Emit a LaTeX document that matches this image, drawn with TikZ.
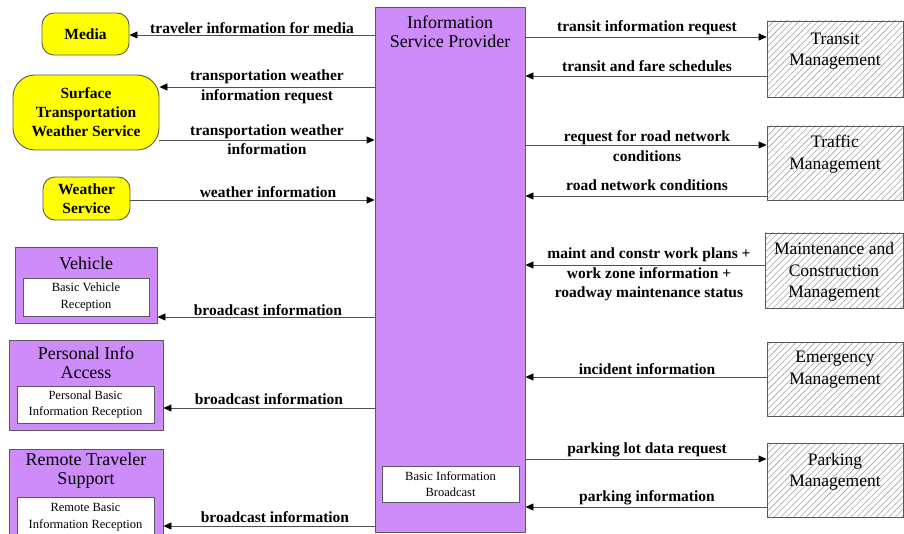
\documentclass[tikz,border=0pt]{standalone}
\usepackage{fontspec}
\setmainfont{Liberation Serif}
\usetikzlibrary{arrows.meta,patterns.meta}
\definecolor{ispviolet}{RGB}{206,140,250}
\definecolor{termyellow}{RGB}{255,255,0}
\definecolor{edgegray}{RGB}{90,90,90}
\definecolor{flowgray}{RGB}{80,80,80}
\definecolor{hatchgray}{RGB}{165,165,165}
\begin{document}
\begin{tikzpicture}[x=1pt,y=-1pt,
  term/.style={draw=edgegray, fill=termyellow, rounded corners=12pt, line width=0.9pt,
    font=\bfseries\fontsize{15.5}{19}\selectfont, align=center, inner sep=0pt},
  sub/.style={draw=edgegray, fill=ispviolet, line width=0.9pt, inner sep=0pt},
  fn/.style={draw=edgegray, fill=white, line width=0.9pt,
    font=\fontsize{12.5}{16.5}\selectfont, align=center, inner sep=0pt},
  ttl/.style={font=\fontsize{18}{19}\selectfont, align=center, inner sep=0pt},
  ext/.style={draw=edgegray, line width=0.9pt, preaction={fill=white},
    pattern={Lines[angle=45,distance=4.5pt,line width=0.6pt]}, pattern color=hatchgray,
    inner sep=0pt},
  extT/.style={font=\fontsize{17.5}{21.5}\selectfont, align=center, inner sep=0pt},
  flow/.style={draw=flowgray, line width=0.9pt,
    -{Triangle[length=8pt,width=7pt,color=black]}},
  lbl/.style={font=\bfseries\fontsize{15.5}{19.5}\selectfont, align=center, inner sep=0pt}
]
\useasboundingbox (0,0) rectangle (904,534);
\clip (0,0) rectangle (904,534);
\fill[white] (0,0) rectangle (904,534);

% central subsystem
\node[sub, minimum width=150, minimum height=525] (isp) at (450,269.5) {};
\node[ttl] (ispT) at (450,31.5) {Information\\Service Provider};
\node[fn, minimum width=137, minimum height=36] (bib) at (450.5,484) {Basic Information\\Broadcast};

% terminators on the left
\node[term, minimum width=87, minimum height=42] (media) at (85.5,34) {Media};
\node[term, rounded corners=22pt, minimum width=146, minimum height=75] (stws) at (86,112.5)
  {Surface\\Transportation\\Weather Service};
\node[term, minimum width=87, minimum height=43] (wx) at (86.5,198.5) {Weather\\Service};

% subsystems on the left
\node[sub, minimum width=142, minimum height=76] (veh) at (86,285) {};
\node[ttl] (vehT) at (86,263) {Vehicle};
\node[fn, minimum width=126, minimum height=38] (vehF) at (86,297) {Basic Vehicle\\Reception};

\node[sub, minimum width=154, minimum height=90] (pia) at (86,385) {};
\node[ttl] (piaT) at (86,363) {Personal Info\\Access};
\node[fn, minimum width=137, minimum height=37] (piaF) at (85.5,404.5)
  {Personal Basic\\Information Reception};

\node[sub, minimum width=154, minimum height=100] (rts) at (86,499) {};
\node[ttl] (rtsT) at (86,471) {Remote Traveler\\Support};
\node[fn, minimum width=137, minimum height=40] (rtsF) at (85.5,517)
  {Remote Basic\\Information Reception};

% external centers on the right
\node[ext, minimum width=136, minimum height=76] (transit) at (835,59) {};
\node[extT] (transitT) at (835,51) {Transit\\Management};
\node[ext, minimum width=136, minimum height=74] (traffic) at (835,163) {};
\node[extT] (trafficT) at (835,154) {Traffic\\Management};
\node[ext, minimum width=138, minimum height=75] (mcm) at (834,270.5) {};
\node[extT] (mcmT) at (834,272) {Maintenance and\\Construction\\Management};
\node[ext, minimum width=136, minimum height=74] (emm) at (835,379) {};
\node[extT] (emmT) at (835,369.5) {Emergency\\Management};
\node[ext, minimum width=136, minimum height=74] (pkm) at (835,480) {};
\node[extT] (pkmT) at (835,472) {Parking\\Management};

% flows on the left
\draw[flow] (isp.west |- 0,35) -- (media.east |- 0,35);
\node[lbl] (f1) at (252,28) {traveler information for media};
\draw[flow] (isp.west |- 0,87) -- (stws.east |- 0,87);
\node[lbl] (f2) at (267,87) {transportation weather\\information request};
\draw[flow] (stws.east |- 0,140) -- (isp.west |- 0,140);
\node[lbl] (f3) at (267,139.5) {transportation weather\\information};
\draw[flow] (wx.east |- 0,200) -- (isp.west |- 0,200);
\node[lbl] (f4) at (268,192) {weather information};
\draw[flow] (isp.west |- 0,317) -- (veh.east |- 0,317);
\node[lbl] (f5) at (268,310) {broadcast information};
\draw[flow] (isp.west |- 0,408) -- (pia.east |- 0,408);
\node[lbl] (f6) at (269,399) {broadcast information};
\draw[flow] (isp.west |- 0,526) -- (rts.east |- 0,526);
\node[lbl] (f7) at (275,517) {broadcast information};

% flows on the right
\draw[flow] (isp.east |- 0,37) -- (transit.west |- 0,37);
\node[lbl] (f8) at (647,28) {transit information request};
\draw[flow] (transit.west |- 0,76) -- (isp.east |- 0,76);
\node[lbl] (f9) at (647,66) {transit and fare schedules};
\draw[flow] (isp.east |- 0,145) -- (traffic.west |- 0,145);
\node[lbl] (f10) at (647,146) {request for road network\\conditions};
\draw[flow] (traffic.west |- 0,196) -- (isp.east |- 0,196);
\node[lbl] (f11) at (647,185) {road network conditions};
\draw[flow] (mcm.west |- 0,265) -- (isp.east |- 0,265);
\node[lbl] (f12) at (649,274.5) {maint and constr work plans +\\work zone information +\\roadway maintenance status};
\draw[flow] (emm.west |- 0,377) -- (isp.east |- 0,377);
\node[lbl] (f13) at (647,369) {incident information};
\draw[flow] (isp.east |- 0,459) -- (pkm.west |- 0,459);
\node[lbl] (f14) at (647,450) {parking lot data request};
\draw[flow] (pkm.west |- 0,507) -- (isp.east |- 0,507);
\node[lbl] (f15) at (647,498) {parking information};
\end{tikzpicture}
\end{document}
